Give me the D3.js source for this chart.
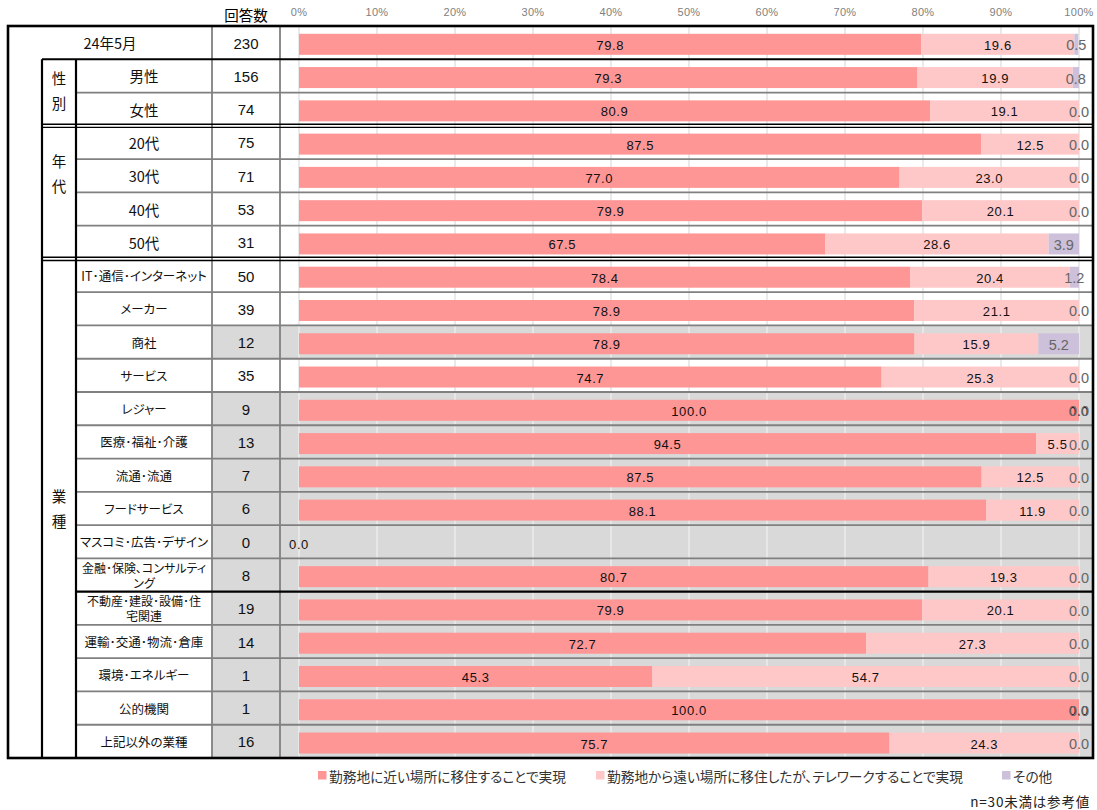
<!DOCTYPE html>
<html><head><meta charset="utf-8">
<script src="https://cdn.jsdelivr.net/npm/d3@7"></script>
<style>
body{margin:0;background:#fff;}
svg text{font-family:"Liberation Sans","Noto Sans CJK JP",sans-serif;}
svg text.jp{font-family:"Noto Sans CJK JP","Liberation Sans",sans-serif;font-feature-settings:"palt";}
</style></head><body>
<svg id="c" width="1097" height="810"></svg>
<script>
// ---------- data ----------
const categories = ["24年5月","男性","女性","20代","30代","40代","50代",
  "IT･通信･インターネット","メーカー","商社","サービス","レジャー","医療･福祉･介護","流通･流通",
  "フードサービス","マスコミ･広告･デザイン","金融･保険、コンサルティ\nング","不動産･建設･設備･住\n宅関連",
  "運輸･交通･物流･倉庫","環境･エネルギー","公的機関","上記以外の業種"];
const counts    = [230,156,74,75,71,53,31,50,39,12,35,9,13,7,6,0,8,19,14,1,1,16];
const nearWork  = [79.8,79.3,80.9,87.5,77.0,79.9,67.5,78.4,78.9,78.9,74.7,100.0,94.5,87.5,88.1,0.0,80.7,79.9,72.7,45.3,100.0,75.7];
const telework  = [19.6,19.9,19.1,12.5,23.0,20.1,28.6,20.4,21.1,15.9,25.3,0.0,5.5,12.5,11.9,null,19.3,20.1,27.3,54.7,0.0,24.3];
const other     = [0.5,0.8,0.0,0.0,0.0,0.0,3.9,1.2,0.0,5.2,0.0,0.0,0.0,0.0,0.0,null,0.0,0.0,0.0,0.0,0.0,0.0];
const groupNames = ["","性別","年代","業種"];
const groupSizes = [1,2,4,15];
const seriesNames = ["勤務地に近い場所に移住することで実現","勤務地から遠い場所に移住したが、テレワークすることで実現","その他"];
const xTicks = [0,10,20,30,40,50,60,70,80,90,100];
const tickLabels = xTicks.map(v => v + "%");
const countHeader = "回答数";
const noteText = "n=30未満は参考値";
const refThreshold = 30;

// ---------- styles / layout ----------
const seriesColors = ["#ff9696","#ffc8c8","#ccc0da"];
const L = {x0:8, xg:42, xl:76, xc:212, xp:280, xr:1093, yt:26, yb:758};
const groupLabelShift = [0,-3,-19,0];
const legendX = [318,596,1002];

const svg = d3.select("#c");
const rows = d3.range(categories.length);
const y = d3.scaleBand().domain(rows).range([L.yt, L.yb]);
const x = d3.scaleLinear().domain([0,100]).range([299,1079]);
const bh = 21, boff = 7.8;
const isRef = i => counts[i] < refThreshold;

// backgrounds for reference rows
svg.append("g").selectAll("rect").data(rows.filter(isRef)).join("rect")
  .attr("x", L.xc).attr("y", i => y(i)).attr("width", L.xr - L.xc).attr("height", y.bandwidth())
  .attr("fill", "#d9d9d9");

// gridlines
const gridData = [];
rows.forEach(i => xTicks.forEach(t => gridData.push({i, t})));
svg.append("g").selectAll("line").data(gridData).join("line")
  .attr("x1", d => x(d.t)).attr("x2", d => x(d.t))
  .attr("y1", d => y(d.i)).attr("y2", d => y(d.i) + y.bandwidth())
  .attr("stroke", d => isRef(d.i) ? "#f0f0f0" : "#dcdcdc").attr("stroke-width", 1.2);

// stacked bars
const table = rows.map(i => ({i, a: nearWork[i], b: telework[i], c: other[i]}));
const keys = ["a","b","c"];
const stack = d3.stack().keys(keys).value((d,k) => d[k] == null ? 0 : d[k]);
const stacked = stack(table);
stacked.forEach((layer, si) => {
  const g = svg.append("g");
  g.selectAll("rect").data(layer.filter(s => s.data[keys[si]] != null && s[1] > s[0])).join("rect")
    .attr("x", s => x(s[0])).attr("width", s => x(s[1]) - x(s[0]))
    .attr("y", s => y(s.data.i) + boff).attr("height", bh)
    .attr("fill", seriesColors[si]);
});
// value labels
stacked.forEach((layer, si) => {
  const g = svg.append("g");
  g.selectAll("text").data(layer.filter(s => s.data[keys[si]] != null)).join("text")
    .attr("x", s => x((s[0] + s[1]) / 2))
    .attr("y", s => y(s.data.i) + boff + bh / 2 + 1)
    .attr("text-anchor", "middle").attr("dominant-baseline", "central")
    .attr("font-size", si === 2 ? 14.5 : 13)
    .attr("letter-spacing", si === 2 ? 0 : 0.6)
    .attr("fill", si === 2 ? "#666" : "#111")
    .text(s => s.data[keys[si]].toFixed(1));
});

// row separators (gray)
const groupStarts = [];
groupSizes.reduce((acc, n) => { groupStarts.push(acc); return acc + n; }, 0);
const blackSingle = [17];
const sepRows = rows.filter(i => i > 0 && !groupStarts.includes(i) && !blackSingle.includes(i));
svg.append("g").selectAll("line").data(sepRows).join("line")
  .attr("x1", L.xl).attr("x2", L.xr).attr("y1", i => y(i)).attr("y2", i => y(i))
  .attr("stroke", "#808080").attr("stroke-width", 1.8);
// vertical gray lines
svg.append("g").selectAll("line").data([L.xc, L.xp]).join("line")
  .attr("x1", d => d).attr("x2", d => d).attr("y1", L.yt).attr("y2", L.yb)
  .attr("stroke", "#808080").attr("stroke-width", 1.8);

// black lines
const bl = svg.append("g").attr("stroke", "#000");
bl.selectAll(".v").data([L.xg, L.xl]).join("line")
  .attr("x1", d => d).attr("x2", d => d).attr("y1", y(1)).attr("y2", L.yb).attr("stroke-width", 2.2);
bl.append("line").attr("x1", L.xg).attr("x2", L.xr).attr("y1", y(groupStarts[1])).attr("y2", y(groupStarts[1])).attr("stroke-width", 2.2);
groupStarts.slice(2).forEach(gs => {
  [-1.6, 1.6].forEach(o => {
    bl.append("line").attr("x1", L.xg).attr("x2", L.xr).attr("y1", y(gs) + o).attr("y2", y(gs) + o).attr("stroke-width", 1.4);
  });
});
blackSingle.forEach(r => {
  bl.append("line").attr("x1", L.xl).attr("x2", L.xr).attr("y1", y(r)).attr("y2", y(r)).attr("stroke-width", 2.2);
});
svg.append("rect").attr("x", L.x0).attr("y", L.yt).attr("width", L.xr - L.x0).attr("height", L.yb - L.yt)
  .attr("fill", "none").attr("stroke", "#000").attr("stroke-width", 2.6);

// header & ticks
svg.append("text").attr("class", "jp").attr("x", (L.xc + L.xp) / 2).attr("y", 14)
  .attr("text-anchor", "middle").attr("dominant-baseline", "central").attr("font-size", 14.5).attr("fill", "#000")
  .text(countHeader);
svg.append("g").selectAll("text").data(xTicks).join("text")
  .attr("x", d => x(d)).attr("y", 12).attr("text-anchor", "middle").attr("dominant-baseline", "central")
  .attr("font-size", 11).attr("fill", "#808080").attr("letter-spacing", 0.3)
  .text((d, k) => tickLabels[k]);

// category labels
const catG = svg.append("g");
rows.forEach(i => {
  const lines = categories[i].split("\n");
  const cx = i === 0 ? (L.x0 + L.xc) / 2 : (L.xl + L.xc) / 2;
  const cy = y(i) + y.bandwidth() / 2;
  const fs = i < 7 ? 14.5 : (lines.length > 1 ? 12 : 12.5);
  const lh = 15;
  const t = catG.append("text").attr("class", "jp").attr("text-anchor", "middle")
    .attr("font-size", fs).attr("fill", "#111");
  lines.forEach((ln, k) => {
    t.append("tspan").attr("x", cx).attr("y", cy + (k - (lines.length - 1) / 2) * lh)
      .attr("dominant-baseline", "central").text(ln);
  });
});
// counts
svg.append("g").selectAll("text").data(rows).join("text")
  .attr("x", (L.xc + L.xp) / 2).attr("y", i => y(i) + y.bandwidth() / 2 + 0.5)
  .attr("text-anchor", "middle").attr("dominant-baseline", "central")
  .attr("font-size", 15).attr("fill", "#111").text(i => counts[i]);

// group labels (vertical)
groupNames.forEach((gname, gi) => {
  if (!gname) return;
  const s = groupStarts[gi], e = s + groupSizes[gi];
  const cy = (y(s) + y(e - 1) + y.bandwidth()) / 2 + groupLabelShift[gi];
  const chars = Array.from(gname);
  chars.forEach((ch, k) => {
    svg.append("text").attr("class", "jp").attr("x", (L.xg + L.xl) / 2)
      .attr("y", cy + (k - (chars.length - 1) / 2) * 25)
      .attr("text-anchor", "middle").attr("dominant-baseline", "central")
      .attr("font-size", 14.5).attr("fill", "#111").text(ch);
  });
});

// legend
const lg = svg.append("g");
seriesNames.forEach((nm, k) => {
  lg.append("rect").attr("x", legendX[k]).attr("y", 771).attr("width", 8.5).attr("height", 8.5).attr("fill", seriesColors[k]);
  lg.append("text").attr("class", "jp").attr("x", legendX[k] + 11).attr("y", 775.5)
    .attr("dominant-baseline", "central").attr("font-size", 13.7).attr("fill", "#333").text(nm);
});
svg.append("text").attr("class", "jp").attr("x", 1090).attr("y", 801).attr("text-anchor", "end")
  .attr("dominant-baseline", "central").attr("font-size", 13.5).attr("letter-spacing", 0.8).attr("fill", "#222")
  .text(noteText);
</script>
</body></html>
